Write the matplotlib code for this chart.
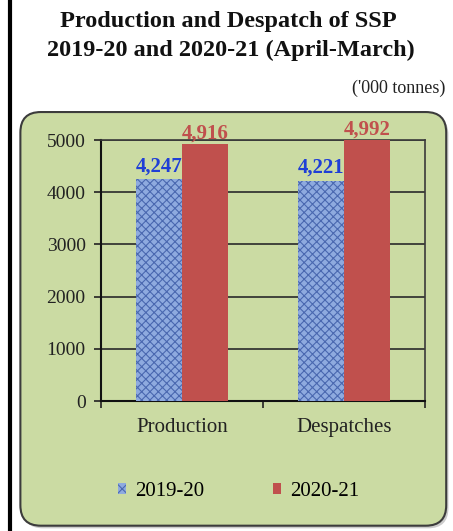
import matplotlib
matplotlib.use("Agg")
import matplotlib.pyplot as plt
from matplotlib.patches import FancyBboxPatch, Patch
from matplotlib.lines import Line2D
import numpy as np

plt.rcParams['font.family'] = ['Liberation Serif', 'DejaVu Serif']
plt.rcParams['hatch.linewidth'] = 0.8

categories = ['Production', 'Despatches']
years = ['2019-20', '2020-21']
values_2019 = [4247, 4221]
values_2020 = [4916, 4992]
yticks = [0, 1000, 2000, 3000, 4000, 5000]

BG = '#cbdba3'
BLUE_FACE = '#8eaadf'
BLUE_HATCH = '#4a68b0'
RED = '#c0504d'

fig = plt.figure(figsize=(4.53, 5.31), dpi=100)

# thick rule on the left edge
fig.add_artist(Line2D([0.023, 0.023], [0, 1], transform=fig.transFigure,
                      color='black', lw=3))

# rounded panel behind the chart
shadow = FancyBboxPatch((0.050, 0.005), 0.94, 0.779, transform=fig.transFigure,
                        boxstyle='round,pad=0,rounding_size=0.045',
                        facecolor='#9a9a9a', edgecolor='none', alpha=0.5,
                        mutation_aspect=453 / 531, zorder=-2)
fig.add_artist(shadow)
panel = FancyBboxPatch((0.045, 0.010), 0.94, 0.779, transform=fig.transFigure,
                       boxstyle='round,pad=0,rounding_size=0.045',
                       facecolor=BG, edgecolor='#3c3c3c', lw=1.5,
                       mutation_aspect=453 / 531, zorder=-1)
fig.add_artist(panel)

fig.text(0.503, 0.960, 'Production and Despatch of SSP', ha='center', va='center',
         fontsize=17.5, fontweight='bold', color='#111111')
fig.text(0.510, 0.905, '2019-20 and 2020-21 (April-March)', ha='center', va='center',
         fontsize=17.5, fontweight='bold', color='#111111')
fig.text(0.983, 0.834, "('000 tonnes)", ha='right', va='center',
         fontsize=13, color='#222222')

ax = fig.add_axes([0.223, 0.2448, 0.715, 0.4915])
ax.set_facecolor('none')

x = np.arange(len(categories))
w = 0.284
b1 = ax.bar(x - w / 2, values_2019, w, facecolor=BLUE_FACE, edgecolor=BLUE_HATCH,
            hatch='xxxx', lw=0, zorder=3)
b2 = ax.bar(x + w / 2, values_2020, w, color=RED, lw=0, zorder=3)

for rect, v in zip(b1, values_2019):
    ax.text(rect.get_x() + rect.get_width() / 2, v + 60, f'{v:,}', ha='center',
            va='bottom', fontsize=15, fontweight='bold', color='#1f3fd6')
for rect, v in zip(b2, values_2020):
    ax.text(rect.get_x() + rect.get_width() / 2, v + 20, f'{v:,}', ha='center',
            va='bottom', fontsize=15, fontweight='bold', color=RED, clip_on=False)

ax.set_ylim(0, 5000)
ax.set_xlim(-0.5, 1.5)
ax.set_yticks(yticks)
ax.set_yticklabels([str(t) for t in yticks], fontsize=14, color='#222222')
ax.yaxis.grid(True, color='#2a2a2a', lw=1.2, zorder=1)
ax.set_axisbelow(True)

# category labels centred, tick marks at category boundaries
ax.set_xticks([-0.5, 0.5, 1.5])
ax.set_xticklabels([])
ax.set_xticks(x, minor=True)
ax.set_xticklabels(categories, minor=True, fontsize=15, color='#222222')
ax.tick_params(axis='x', which='minor', length=0, pad=12)
ax.tick_params(axis='x', which='major', length=5, width=1.2, color='#222222')
ax.tick_params(axis='y', length=5, width=1.2, color='#222222', pad=6)

for side in ['left', 'bottom']:
    ax.spines[side].set_color('#111111')
    ax.spines[side].set_linewidth(1.5)
for side in ['top', 'right']:
    ax.spines[side].set_color('#3a3a3a')
    ax.spines[side].set_linewidth(1.2)

handles = [Patch(facecolor=BLUE_FACE, edgecolor=BLUE_HATCH, hatch='xxx', lw=0),
           Patch(facecolor=RED, lw=0)]
fig.legend(handles, years, loc='center', bbox_to_anchor=(0.526, 0.075),
           ncol=2, frameon=False, fontsize=15, handlelength=0.42,
           handleheight=0.42, handletextpad=0.4, columnspacing=3.3)

fig.savefig('out.png', dpi=100)
